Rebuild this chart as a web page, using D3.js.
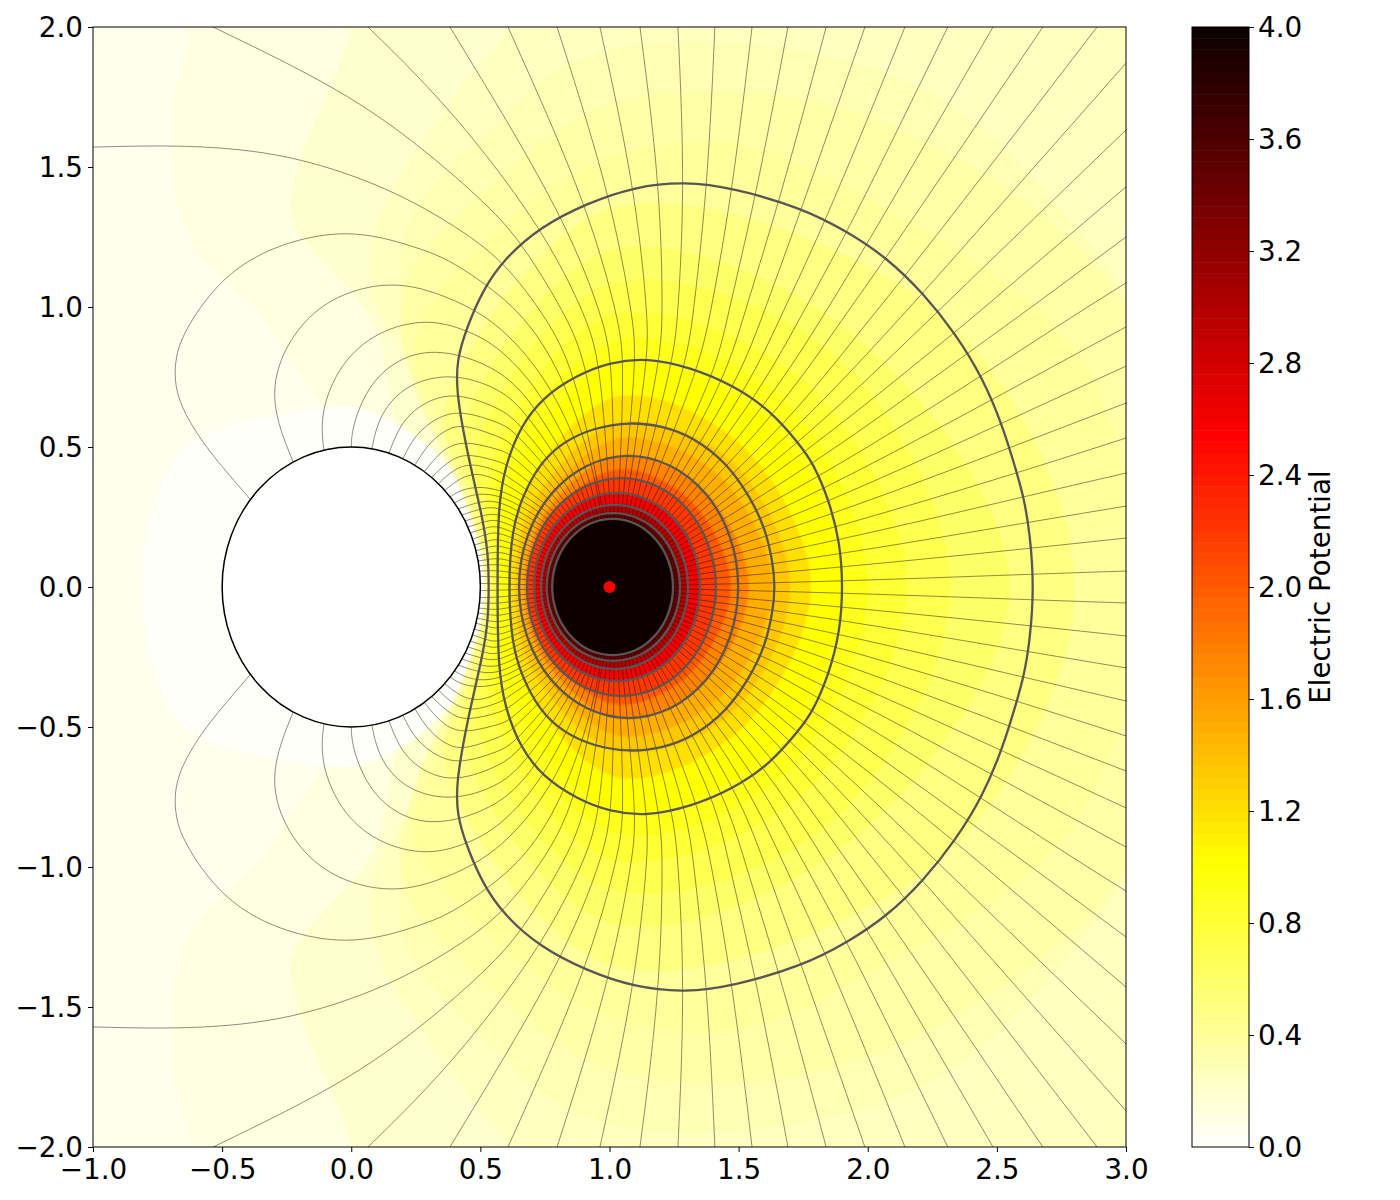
<!DOCTYPE html>
<html>
<head>
<meta charset="utf-8">
<script src="https://cdn.jsdelivr.net/npm/d3@7"></script>
<style>
  body { margin: 0; background: #fff; }
  text { font-family: "DejaVu Sans", sans-serif; }
</style>
</head>
<body>
<div id="chart"></div>
<script>
// Axis ticks
const xTicks = [-1, -0.5, 0, 0.5, 1, 1.5, 2, 2.5, 3];
const yTicks = [-2, -1.5, -1, -0.5, 0, 0.5, 1, 1.5, 2];
const barTicks = [0, 0.4, 0.8, 1.2, 1.6, 2, 2.4, 2.8, 3.2, 3.6, 4];

// hot_r colour stops of the colour bar
const colorStops = [0, 1.016, 2.536, 4];
const colorValues = ["#ffffff", "#ffff00", "#ff0000", "#0b0000"];

const charge = [1, 0];
const cylinderRadius = 0.5;

// Upper half of the potential contours, outermost first.
// The picture is symmetric about y = 0, the lower half is mirrored when drawing.
const contourRings = [
  [[2.644,0],[2.628,.193],[2.604,.321],[2.574,.418],[2.524,.571],[2.446,.746],[2.338,.907],[2.214,1.05],[2.075,1.175],[1.924,1.268],[1.745,1.354],[1.478,1.425],[1.292,1.448],[1.099,1.43],[.913,1.371],[.731,1.286],[.588,1.168],[.51,1.061],[.448,.929],[.408,.811],[.408,.693],[.44,.525],[.471,.393],[.51,.239],[.53,.121],[.533,0]],
  [[1.904,0],[1.893,.157],[1.85,.311],[1.788,.443],[1.738,.507],[1.622,.632],[1.478,.721],[1.312,.785],[1.145,.818],[1.002,.803],[.874,.757],[.743,.679],[.653,.571],[.595,.429],[.568,.286],[.566,0]],
  [[1.641,0],[1.633,.086],[1.602,.214],[1.544,.321],[1.455,.443],[1.323,.536],[1.207,.575],[1.079,.59],[.936,.568],[.82,.518],[.731,.443],[.661,.321],[.622,.204],[.608,0]],
  [[1.498,0],[1.466,.179],[1.374,.331],[1.236,.432],[1.074,.468],[.912,.432],[.774,.331],[.682,.179],[.65,0]],
  [[1.412,0],[1.383,.149],[1.304,.275],[1.186,.359],[1.046,.389],[.906,.359],[.788,.275],[.709,.149],[.681,0]],
  [[1.35,0],[1.326,.129],[1.256,.238],[1.152,.31],[1.029,.336],[.906,.31],[.802,.238],[.732,.129],[.708,0]],
  [[1.304,0],[1.282,.112],[1.221,.207],[1.129,.271],[1.02,.293],[.911,.271],[.819,.207],[.757,.112],[.735,0]],
  [[1.273,0],[1.253,.101],[1.197,.187],[1.114,.244],[1.015,.264],[.916,.244],[.833,.187],[.777,.101],[.757,0]],
  [[1.246,0],[1.228,.093],[1.177,.172],[1.102,.225],[1.012,.243],[.922,.225],[.847,.172],[.796,.093],[.778,0]]
];

// Filled levels of the background, lowest first, and the upper half of each outline
const baseLevel = 0.07;
const haloLevel = 0.02;
const haloOutline = [[-.807,0],[-.779,.239],[-.652,.489],[-.458,.579],[-.133,.632],[0,.643],[.254,.536],[.46,.311],[.513,0]];
const lowLevels = [0.12, 0.2];
const lowOutlines = [
  [[3.5,0],[3.5,2.2],[-.6,2.2],[-.624,2],[-.702,1.632],[-.624,1.239],[-.342,.954],[-.16,.704],[-.044,.56],[-.1,0]],
  [[3.5,0],[3.5,2.2],[0,2.2],[0,2],[-.211,1.489],[-.226,1.311],[.08,.95],[.15,.68],[.2,.4],[.1,0]]
];
const fillLevels = [0.25, 0.3, 0.35, 0.4, 0.5, 0.6, 0.7, 0.8, 0.9, 1, 1.2, 1.35, 1.5, 1.75, 2];
const fillOutlines = [
  [[3.5,0],[3.5,2.3],[.9,2.3],[.62,2],[.36,1.7],[.1,1.3],[.08,1.05],[.22,.8],[.33,.6],[.44,.35],[.53,0]],
  [[3.17,0],[3.054,.918],[2.745,1.35],[2.307,1.729],[1.853,1.893],[1.156,1.943],[.807,1.846],[.537,1.632],[.227,1.311],[.189,1.071],[.227,.954],[.305,.668],[.46,.382],[.536,0]],
  [[3.3,0],[3,1],[2.4,1.5],[1.7,1.75],[1,1.72],[.5,1.4],[.2,1.05],[.25,.7],[.43,.33],[.52,0]],
  [[3.05,0],[2.8,.85],[1.931,1.418],[1.478,1.586],[1.002,1.536],[.6,1.3],[.25,.9],[.33,.6],[.47,.3],[.53,0]],
  [[2.8,0],[2.6,.6],[2.096,1.096],[1,1.35],[.364,.636],[.46,.3],[.52,0]],
  [[2.55,0],[1.919,.919],[1,1.2],[.434,.566],[.5,.25],[.535,0]],
  [[2.32,0],[1.848,.848],[1,1.08],[.491,.509],[.545,0]],
  [[2.15,0],[1.742,.742],[1,.97],[.547,.453],[.555,0]],
  [[2,0],[1.672,.672],[1.03,.88],[.576,.424],[.57,0]],
  [[1.905,0],[1.601,.601],[1.03,.8],[.618,.382],[.58,0]],
  [[1.78,0],[1.509,.509],[1.03,.68],[.668,.332],[.615,0]],
  [[1.7,0],[1.46,.46],[1.03,.586],[.703,.297],[.635,0]],
  [[1.63,0],[1.41,.41],[1.03,.53],[.724,.276],[.65,0]],
  [[1.54,0],[1.354,.354],[1.03,.47],[.745,.255],[.67,0]],
  [[1.47,0],[1.311,.311],[1.03,.42],[.76,.24],[.685,0]]
];

// The innermost levels follow the contours, index into contourRings
const ringLevels = [2.2, 2.6, 3, 3.5, 4];
const ringLevelIndex = [4, 5, 6, 7, 8];

// Field lines leaving through the right edge
const fieldLinesRight = [
  [[1.235,.006],[1.908,.021],[2.64,.046],[3,.057]],
  [[1.234,.018],[1.908,.071],[2.64,.139],[3,.175]],
  [[1.233,.031],[1.904,.118],[2.628,.232],[3,.289]],
  [[1.231,.043],[1.896,.168],[2.616,.325],[3,.407]],
  [[1.229,.055],[1.885,.214],[2.593,.411],[3,.532]],
  [[1.225,.067],[1.873,.261],[2.558,.5],[3,.657]],
  [[1.222,.078],[1.854,.304],[2.523,.586],[3,.789]],
  [[1.217,.09],[1.831,.346],[2.493,.675],[3,.929]],
  [[1.212,.101],[1.815,.389],[2.446,.757],[2.783,.961],[3,1.086]],
  [[1.207,.112],[1.792,.436],[2.392,.839],[2.578,.961],[3,1.25]],
  [[1.2,.123],[1.764,.479],[2.338,.911],[2.404,.961],[3,1.429]],
  [[1.194,.133],[1.738,.507],[2.268,.982],[3,1.632]],
  [[1.186,.143],[1.706,.539],[2.125,.961],[2.214,1.05],[3,1.871]]
];

// Field lines leaving through the top edge
const fieldLinesTop = [
  [[1.179,.153],[1.679,.568],[2.009,.961],[2.144,1.107],[2.888,2]],
  [[1.17,.162],[1.644,.611],[1.904,.961],[2.075,1.179],[2.678,2]],
  [[1.162,.17],[1.606,.643],[1.823,.961],[2.001,1.229],[2.485,2]],
  [[1.153,.179],[1.563,.664],[1.737,.961],[1.923,1.268],[2.31,2]],
  [[1.143,.186],[1.528,.693],[1.66,.961],[1.842,1.314],[2.144,2]],
  [[1.133,.194],[1.489,.714],[1.59,.961],[1.745,1.354],[1.989,2]],
  [[1.123,.2],[1.447,.736],[1.516,.961],[1.66,1.382],[1.839,2]],
  [[1.112,.207],[1.408,.75],[1.455,.961],[1.571,1.411],[1.691,2]],
  [[1.101,.212],[1.343,.775],[1.389,.961],[1.478,1.425],[1.552,2]],
  [[1.09,.217],[1.296,.786],[1.323,.961],[1.381,1.443],[1.408,2]],
  [[1.078,.222],[1.246,.8],[1.265,.961],[1.292,1.443],[1.265,2]],
  [[1.067,.225],[1.196,.811],[1.207,.961],[1.196,1.439],[1.118,2]],
  [[1.055,.229],[1.149,.814],[1.149,.961],[1.099,1.425],[.963,2]],
  [[1.043,.231],[1.106,.814],[1.091,.961],[1.002,1.407],[.797,2]],
  [[1.031,.233],[1.06,.811],[1.033,.961],[.913,1.371],[.607,2]],
  [[1.018,.234],[1.013,.804],[.974,.961],[.82,1.336],[.382,2]],
  [[1.006,.235],[.967,.793],[.913,.961],[.739,1.286],[.382,1.714],[.065,2]],
  [[.994,.235],[.921,.775],[.839,.961],[.661,1.229],[.537,1.357],[.278,1.568],[-.032,1.775],[-.535,2]]
];

// The one field line that leaves through the left edge
const fieldLineLeft = [[.982,.234],[.874,.757],[.758,.961],[.587,1.168],[.409,1.286],[.15,1.425],[-.237,1.548],[-.624,1.58],[-1,1.571]];

// Field lines that end on the cylinder
const fieldLinesCylinder = [
  [[.969,.233],[.949,.387],[.832,.736],[.681,.961],[.525,1.079],[.382,1.168],[.254,1.214],[-.016,1.285],[-.326,1.215],[-.52,1.09],[-.652,.907],[-.68,.82],[-.685,.74],[-.665,.66],[-.62,.58],[-.547,.479],[-.39,.312]],
  [[.957,.231],[.93,.379],[.789,.711],[.576,.943],[.382,1.036],[.161,1.1],[-.094,1.035],[-.237,.893],[-.295,.76],[-.3,.66],[-.275,.56],[-.225,.447]],
  [[.945,.229],[.911,.369],[.75,.682],[.576,.857],[.448,.918],[.293,.96],[.1,.915],[-.044,.8],[-.122,.621],[-.106,.489]],
  [[.933,.225],[.892,.364],[.711,.65],[.576,.782],[.343,.855],[.177,.818],[.061,.714],[.003,.571],[0,.5]],
  [[.922,.222],[.875,.353],[.681,.621],[.576,.711],[.382,.768],[.2,.72],[.105,.607],[.08,.494]],
  [[.91,.217],[.858,.342],[.653,.586],[.576,.639],[.409,.695],[.293,.667],[.195,.596],[.146,.478]],
  [[.899,.212],[.841,.334],[.634,.557],[.576,.586],[.432,.63],[.343,.612],[.25,.55],[.2,.458]],
  [[.888,.207],[.826,.321],[.622,.514],[.576,.536],[.448,.578],[.382,.572],[.302,.518],[.247,.436]],
  [[.877,.2],[.812,.307],[.614,.479],[.576,.489],[.421,.528],[.34,.479],[.285,.414]],
  [[.867,.194],[.799,.292],[.603,.439],[.576,.446],[.44,.482],[.368,.443],[.31,.39]],
  [[.857,.186],[.787,.278],[.591,.404],[.576,.411],[.467,.446],[.393,.418],[.34,.371]],
  [[.847,.179],[.773,.266],[.576,.382],[.486,.41],[.421,.389],[.363,.346]],
  [[.838,.17],[.762,.25],[.576,.359],[.44,.357],[.382,.321]],
  [[.83,.162],[.753,.234],[.576,.336],[.46,.332],[.401,.3]],
  [[.821,.153],[.745,.218],[.576,.313],[.49,.304],[.415,.279]],
  [[.814,.143],[.734,.204],[.576,.289],[.506,.282],[.429,.257]],
  [[.806,.133],[.728,.187],[.576,.266],[.514,.257],[.441,.236]],
  [[.8,.123],[.719,.172],[.576,.243],[.522,.236],[.452,.214]],
  [[.793,.112],[.714,.155],[.576,.22],[.529,.214],[.461,.193]],
  [[.788,.101],[.707,.14],[.576,.196],[.537,.193],[.47,.171]],
  [[.783,.09],[.7,.124],[.576,.175],[.53,.165],[.477,.15]],
  [[.778,.078],[.698,.107],[.576,.152],[.53,.142],[.483,.129]],
  [[.775,.067],[.693,.091],[.576,.129],[.53,.12],[.488,.111]],
  [[.771,.055],[.689,.075],[.576,.105],[.53,.098],[.491,.093]],
  [[.769,.043],[.69,.057],[.576,.082],[.53,.079],[.494,.075]],
  [[.767,.031],[.688,.041],[.576,.059],[.53,.058],[.497,.057]],
  [[.766,.018],[.686,.025],[.576,.036],[.53,.037],[.498,.038]],
  [[.765,.006],[.685,.008],[.576,.011],[.53,.012],[.4997,.013]]
];

// Dimensions, same for the plot and the colour bar
const svg = d3.select("#chart").append("svg")
    .attr("width", 1400)
    .attr("height", 1200);

const plot = {left: 93, right: 1126, top: 27, bottom: 1147};
const bar = {left: 1192, right: 1249};

const x = d3.scaleLinear().domain([-1, 3]).range([plot.left, plot.right]);
const y = d3.scaleLinear().domain([-2, 2]).range([plot.bottom, plot.top]);
const barY = d3.scaleLinear().domain([0, 4]).range([plot.bottom, plot.top]);
const color = d3.scaleLinear().domain(colorStops).range(colorValues);

svg.append("clipPath").attr("id", "plot-clip")
  .append("rect")
    .attr("x", plot.left)
    .attr("y", plot.top)
    .attr("width", plot.right - plot.left)
    .attr("height", plot.bottom - plot.top);

// A small blur hides the steps between the filled levels
const blur = svg.append("filter").attr("id", "soften")
    .attr("x", "-5%").attr("y", "-5%").attr("width", "110%").attr("height", "110%");
blur.append("feGaussianBlur").attr("stdDeviation", 1.3);

const chart = svg.append("g").attr("clip-path", "url(#plot-clip)");

// Catmull-Rom for the sparse outlines, basis for the densely read contours and
// the field lines, it irons out the small reading errors
const closedLine = d3.line()
    .x(d => x(d[0]))
    .y(d => y(d[1]))
    .curve(d3.curveCatmullRomClosed.alpha(0.5));

const denseLine = d3.line()
    .x(d => x(d[0]))
    .y(d => y(d[1]))
    .curve(d3.curveBasisClosed);

const openLine = d3.line()
    .x(d => x(d[0]))
    .y(d => y(d[1]))
    .curve(d3.curveBasis);

// Upper half outline -> full closed outline
function mirrored(half) {
  const lower = half.slice(1, -1).reverse().map(d => [d[0], -d[1]]);
  return half.concat(lower);
}

function ringPath(half) {
  return half.length > 12 ? denseLine(mirrored(half)) : closedLine(mirrored(half));
}

// Background levels
chart.append("rect")
    .attr("x", plot.left)
    .attr("y", plot.top)
    .attr("width", plot.right - plot.left)
    .attr("height", plot.bottom - plot.top)
    .attr("fill", color(baseLevel));

const fills = chart.append("g").attr("filter", "url(#soften)");

lowLevels.forEach((level, i) => {
  fills.append("path")
      .attr("d", closedLine(mirrored(lowOutlines[i])))
      .attr("fill", color(level));
});

fills.append("path")
    .attr("d", closedLine(mirrored(haloOutline)))
    .attr("fill", color(haloLevel));

fillLevels.forEach((level, i) => {
  fills.append("path")
      .attr("d", closedLine(mirrored(fillOutlines[i])))
      .attr("fill", color(level));
});

ringLevels.forEach((level, i) => {
  fills.append("path")
      .attr("d", ringPath(contourRings[ringLevelIndex[i]]))
      .attr("fill", color(level));
});

// Field lines, upper half and its mirror image
const allFieldLines = [...fieldLinesRight, ...fieldLinesTop, fieldLineLeft, ...fieldLinesCylinder];
const fieldGroup = chart.append("g")
    .attr("fill", "none")
    .attr("stroke", "#000")
    .attr("stroke-opacity", 0.75)
    .attr("stroke-width", 0.6);

allFieldLines.forEach(points => {
  fieldGroup.append("path").attr("d", openLine(points));
  fieldGroup.append("path").attr("d", openLine(points.map(d => [d[0], -d[1]])));
});

// Contours
chart.append("g")
    .attr("fill", "none")
    .attr("stroke", "#5a5555")
    .attr("stroke-width", 2.3)
  .selectAll("path")
  .data(contourRings)
  .enter()
  .append("path")
    .attr("d", d => ringPath(d));

// Cylinder, drawn as an ellipse because the axes are not equal
chart.append("ellipse")
    .attr("cx", x(0))
    .attr("cy", y(0))
    .attr("rx", x(cylinderRadius) - x(0))
    .attr("ry", y(0) - y(cylinderRadius))
    .attr("fill", "#fff")
    .attr("stroke", "#000")
    .attr("stroke-width", 1.5);

// Point charge
chart.append("circle")
    .attr("cx", x(charge[0]))
    .attr("cy", y(charge[1]))
    .attr("r", 6)
    .attr("fill", "#ff0000");

// Plot frame and axes
svg.append("rect")
    .attr("x", plot.left)
    .attr("y", plot.top)
    .attr("width", plot.right - plot.left)
    .attr("height", plot.bottom - plot.top)
    .attr("fill", "none")
    .attr("stroke", "#000")
    .attr("stroke-width", 1);

function styleAxis(g) {
  g.select(".domain").remove();
  g.selectAll("line").attr("stroke", "#000").attr("stroke-width", 1);
  g.selectAll("text").attr("font-size", 27.8).attr("fill", "#000").attr("font-family", "DejaVu Sans");
}

svg.append("g")
    .attr("transform", `translate(0,${plot.bottom})`)
    .call(d3.axisBottom(x).tickValues(xTicks).tickFormat(d3.format(".1f")).tickSize(5).tickPadding(7))
    .call(styleAxis);

svg.append("g")
    .attr("transform", `translate(${plot.left},0)`)
    .call(d3.axisLeft(y).tickValues(yTicks).tickFormat(d3.format(".1f")).tickSize(5).tickPadding(5))
    .call(styleAxis)
    .call(g => g.selectAll("text").attr("dy", "0.33em"));

// Colour bar
const barLevels = d3.range(0, 100).map(i => i * 0.04);
svg.append("g")
  .selectAll("rect")
  .data(barLevels)
  .enter()
  .append("rect")
    .attr("x", bar.left)
    .attr("width", bar.right - bar.left)
    .attr("y", d => barY(d + 0.04))
    .attr("height", d => barY(d) - barY(d + 0.04) + 0.5)
    .attr("fill", d => color(d + 0.02));

svg.append("rect")
    .attr("x", bar.left)
    .attr("y", plot.top)
    .attr("width", bar.right - bar.left)
    .attr("height", plot.bottom - plot.top)
    .attr("fill", "none")
    .attr("stroke", "#000")
    .attr("stroke-width", 1);

svg.append("g")
    .attr("transform", `translate(${bar.right},0)`)
    .call(d3.axisRight(barY).tickValues(barTicks).tickFormat(d3.format(".1f")).tickSize(5).tickPadding(4))
    .call(styleAxis)
    .call(g => g.selectAll("text").attr("dy", "0.33em"));

// Colour bar label
svg.append("text")
    .attr("transform", `translate(1330,${(plot.top + plot.bottom) / 2}) rotate(-90)`)
    .attr("text-anchor", "middle")
    .attr("font-size", 27.8)
    .attr("fill", "#000")
    .text("Electric Potential");
</script>
</body>
</html>
